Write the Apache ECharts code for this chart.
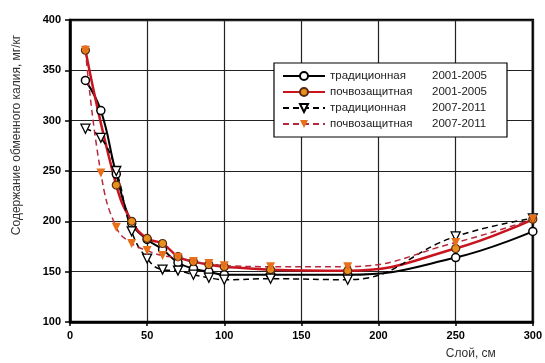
<!DOCTYPE html>
<html lang="ru" style="height: 100%">
<head>
  <meta charset="utf-8">
  <title>Содержание обменного калия</title>
  <style>
    body { margin: 0; height: 100%; background: #fff; }
    #container { width: 545px; height: 363px; }
  </style>
</head>
<body>
  <div id="container"></div>
  <script src="https://cdn.jsdelivr.net/npm/echarts@6/dist/echarts.min.js"></script>
  <script>
    // глубина слоя, см
    var depths = [10, 20, 30, 40, 50, 60, 70, 80, 90, 100, 130, 180, 250, 300];
    var trad0105 = [340, 310, 247, 198, 182, 172, 159, 153, 150, 147, 147, 147, 164, 190];
    var soil0105 = [370, null, 236, 200, 183, 178, 165, 160, 157, 155, 152, 151, 173, 202];
    var trad0711 = [292, 283, 250, 190, 163, 152, 151, 147, 144, 142, 143, 142, 185, 203];
    var soil0711 = [370, 248, 194, 178, 171, 166, 164, 160, 158, 156, 155, 155, 179, 202];
    var names = ['традиционная|2001-2005', 'почвозащитная|2001-2005',
                 'традиционная|2007-2011', 'почвозащитная|2007-2011'];

    function pairs(vals) {
      return depths.map(function (d, i) { return [d, vals[i]]; });
    }

    var chart = echarts.init(document.getElementById('container'), null, { renderer: 'canvas' });

    var tickFont = { color: '#000', fontWeight: 'bold', fontSize: 11, fontFamily: 'Liberation Sans, Arial, sans-serif' };

    var option = {
      animation: false,
      backgroundColor: '#fff',
      grid: {
        left: 70, right: 8, top: 20, bottom: 41,
        show: true, borderColor: '#000', borderWidth: 2.5
      },
      legend: {
        orient: 'vertical',
        left: 274, top: 63,
        borderColor: '#000', borderWidth: 1.2,
        padding: [7, 20, 7, 8],
        itemGap: 4, itemWidth: 42, itemHeight: 10,
        backgroundColor: '#fff',
        data: names,
        formatter: function (n) {
          var p = n.split('|');
          return '{a|' + p[0] + '}{b|' + p[1] + '}';
        },
        textStyle: {
          rich: {
            a: { width: 102, fontSize: 11.5, color: '#222', fontFamily: 'Liberation Sans, Arial, sans-serif' },
            b: { fontSize: 11.5, color: '#222', fontFamily: 'Liberation Sans, Arial, sans-serif' }
          }
        }
      },
      xAxis: {
        type: 'value', min: 0, max: 300, interval: 50,
        name: 'Слой, см', nameLocation: 'end', nameGap: 0,
        nameTextStyle: { fontSize: 12, color: '#333', fontFamily: 'Liberation Sans, Arial, sans-serif',
                         align: 'right', verticalAlign: 'top', padding: [26, 37, 0, 0] },
        axisLine: { show: true, lineStyle: { color: '#000', width: 2.5 } },
        axisTick: { show: true, length: 4, lineStyle: { color: '#000', width: 1.5 } },
        axisLabel: Object.assign({ margin: 8 }, tickFont),
        splitLine: { show: true, lineStyle: { color: '#222', width: 1.2 } }
      },
      yAxis: {
        type: 'value', min: 100, max: 400, interval: 50,
        name: 'Содержание обменного калия, мг/кг', nameLocation: 'middle', nameGap: 47,
        nameTextStyle: { fontSize: 12, color: '#333', fontFamily: 'Liberation Sans, Arial, sans-serif',
                         padding: [0, 0, 0, 72] },
        axisLine: { show: true, lineStyle: { color: '#000', width: 2.5 } },
        axisTick: { show: true, length: 5, lineStyle: { color: '#000', width: 1.5 } },
        axisLabel: Object.assign({ margin: 9 }, tickFont),
        splitLine: { show: true, lineStyle: { color: '#222', width: 1.2 } }
      },
      series: [
        {
          name: names[0], type: 'line', smooth: 0.45, connectNulls: true,
          data: pairs(trad0105),
          symbol: 'circle', symbolSize: 8,
          lineStyle: { color: '#000', width: 2 },
          itemStyle: { color: '#fff', borderColor: '#000', borderWidth: 1.5 }
        },
        {
          name: names[1], type: 'line', smooth: 0.45, connectNulls: true,
          data: pairs(soil0105),
          symbol: 'circle', symbolSize: 8,
          lineStyle: { color: '#c8141e', width: 2.5 },
          itemStyle: { color: '#e8901e', borderColor: '#5a2a10', borderWidth: 1.2 }
        },
        {
          name: names[2], type: 'line', smooth: 0.45, connectNulls: true,
          data: pairs(trad0711),
          symbol: 'triangle', symbolRotate: 180, symbolSize: 9,
          lineStyle: { color: '#000', width: 1.5, type: [6, 4] },
          itemStyle: { color: '#fff', borderColor: '#000', borderWidth: 1.3 }
        },
        {
          name: names[3], type: 'line', smooth: 0.45, connectNulls: true,
          data: pairs(soil0711),
          symbol: 'triangle', symbolRotate: 180, symbolSize: 9,
          lineStyle: { color: '#b8283c', width: 1.5, type: [6, 4] },
          itemStyle: { color: '#e8701a', borderColor: '#e8701a', borderWidth: 0 }
        }
      ]
    };

    chart.setOption(option);
    window.addEventListener('resize', chart.resize);
  </script>
</body>
</html>
